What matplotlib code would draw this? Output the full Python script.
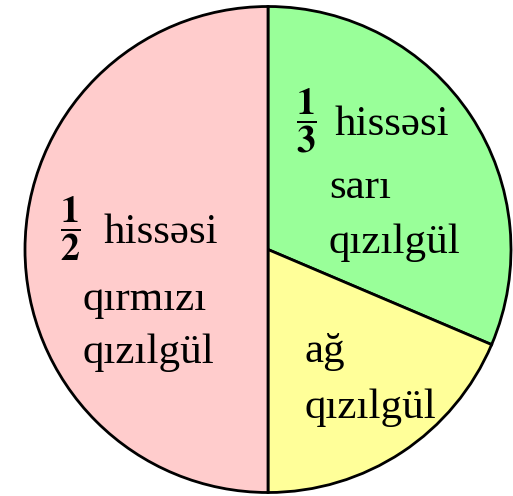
import matplotlib
matplotlib.use("Agg")
import matplotlib.pyplot as plt

# slices, clockwise from 12 o'clock
slices = ["sarı", "ağ", "qırmızı"]
shares = [0.314, 0.186, 0.5]
colors = ["#99FF99", "#FFFF99", "#FFCCCC"]

# label text for each slice (fraction, then lines)
fractions = [r"$\dfrac{\mathbf{1}}{\mathbf{3}}$", None, r"$\dfrac{\mathbf{1}}{\mathbf{2}}$"]
label_lines = [["hissəsi", "sarı", "qızılgül"],
               ["ağ", "qızılgül"],
               ["hissəsi", "qırmızı", "qızılgül"]]

plt.rcParams["font.family"] = ["Liberation Serif", "DejaVu Serif"]
plt.rcParams["mathtext.fontset"] = "stix"

W, H, DPI = 513, 496, 100
cx, cy, r = 268, 249.5, 243   # pie centre / radius in pixels

fig = plt.figure(figsize=(W / DPI, H / DPI), dpi=DPI)
ax = fig.add_axes([0, 0, 1, 1])

ax.pie(shares, colors=colors, startangle=90, counterclock=False, radius=1,
       wedgeprops=dict(edgecolor="black", linewidth=2.0))

# pie() resets the limits, so set them afterwards
ax.set_aspect("auto")
ax.set_xlim(-cx / r, (W - cx) / r)
ax.set_ylim(-(H - cy) / r, cy / r)
ax.axis("off")


def px(x, y):
    return (x - cx) / r, (cy - y) / r


# text placement (left x, baseline y) in pixels
frac_pos = [(306, 121), None, (70, 229)]
line_pos = [[(335, 135), (329, 198), (329, 253)],
            [(304, 362), (305, 418)],
            [(104, 243), (82, 310), (82, 363)]]

fs = 31
for frac, fpos, lines, lpos in zip(fractions, frac_pos, label_lines, line_pos):
    if frac is not None:
        ax.text(*px(*fpos), frac, fontsize=27, ha="center", va="center")
    for txt, p in zip(lines, lpos):
        ax.text(*px(*p), txt, fontsize=fs, ha="left", va="baseline")

fig.savefig("out.png", dpi=DPI)
